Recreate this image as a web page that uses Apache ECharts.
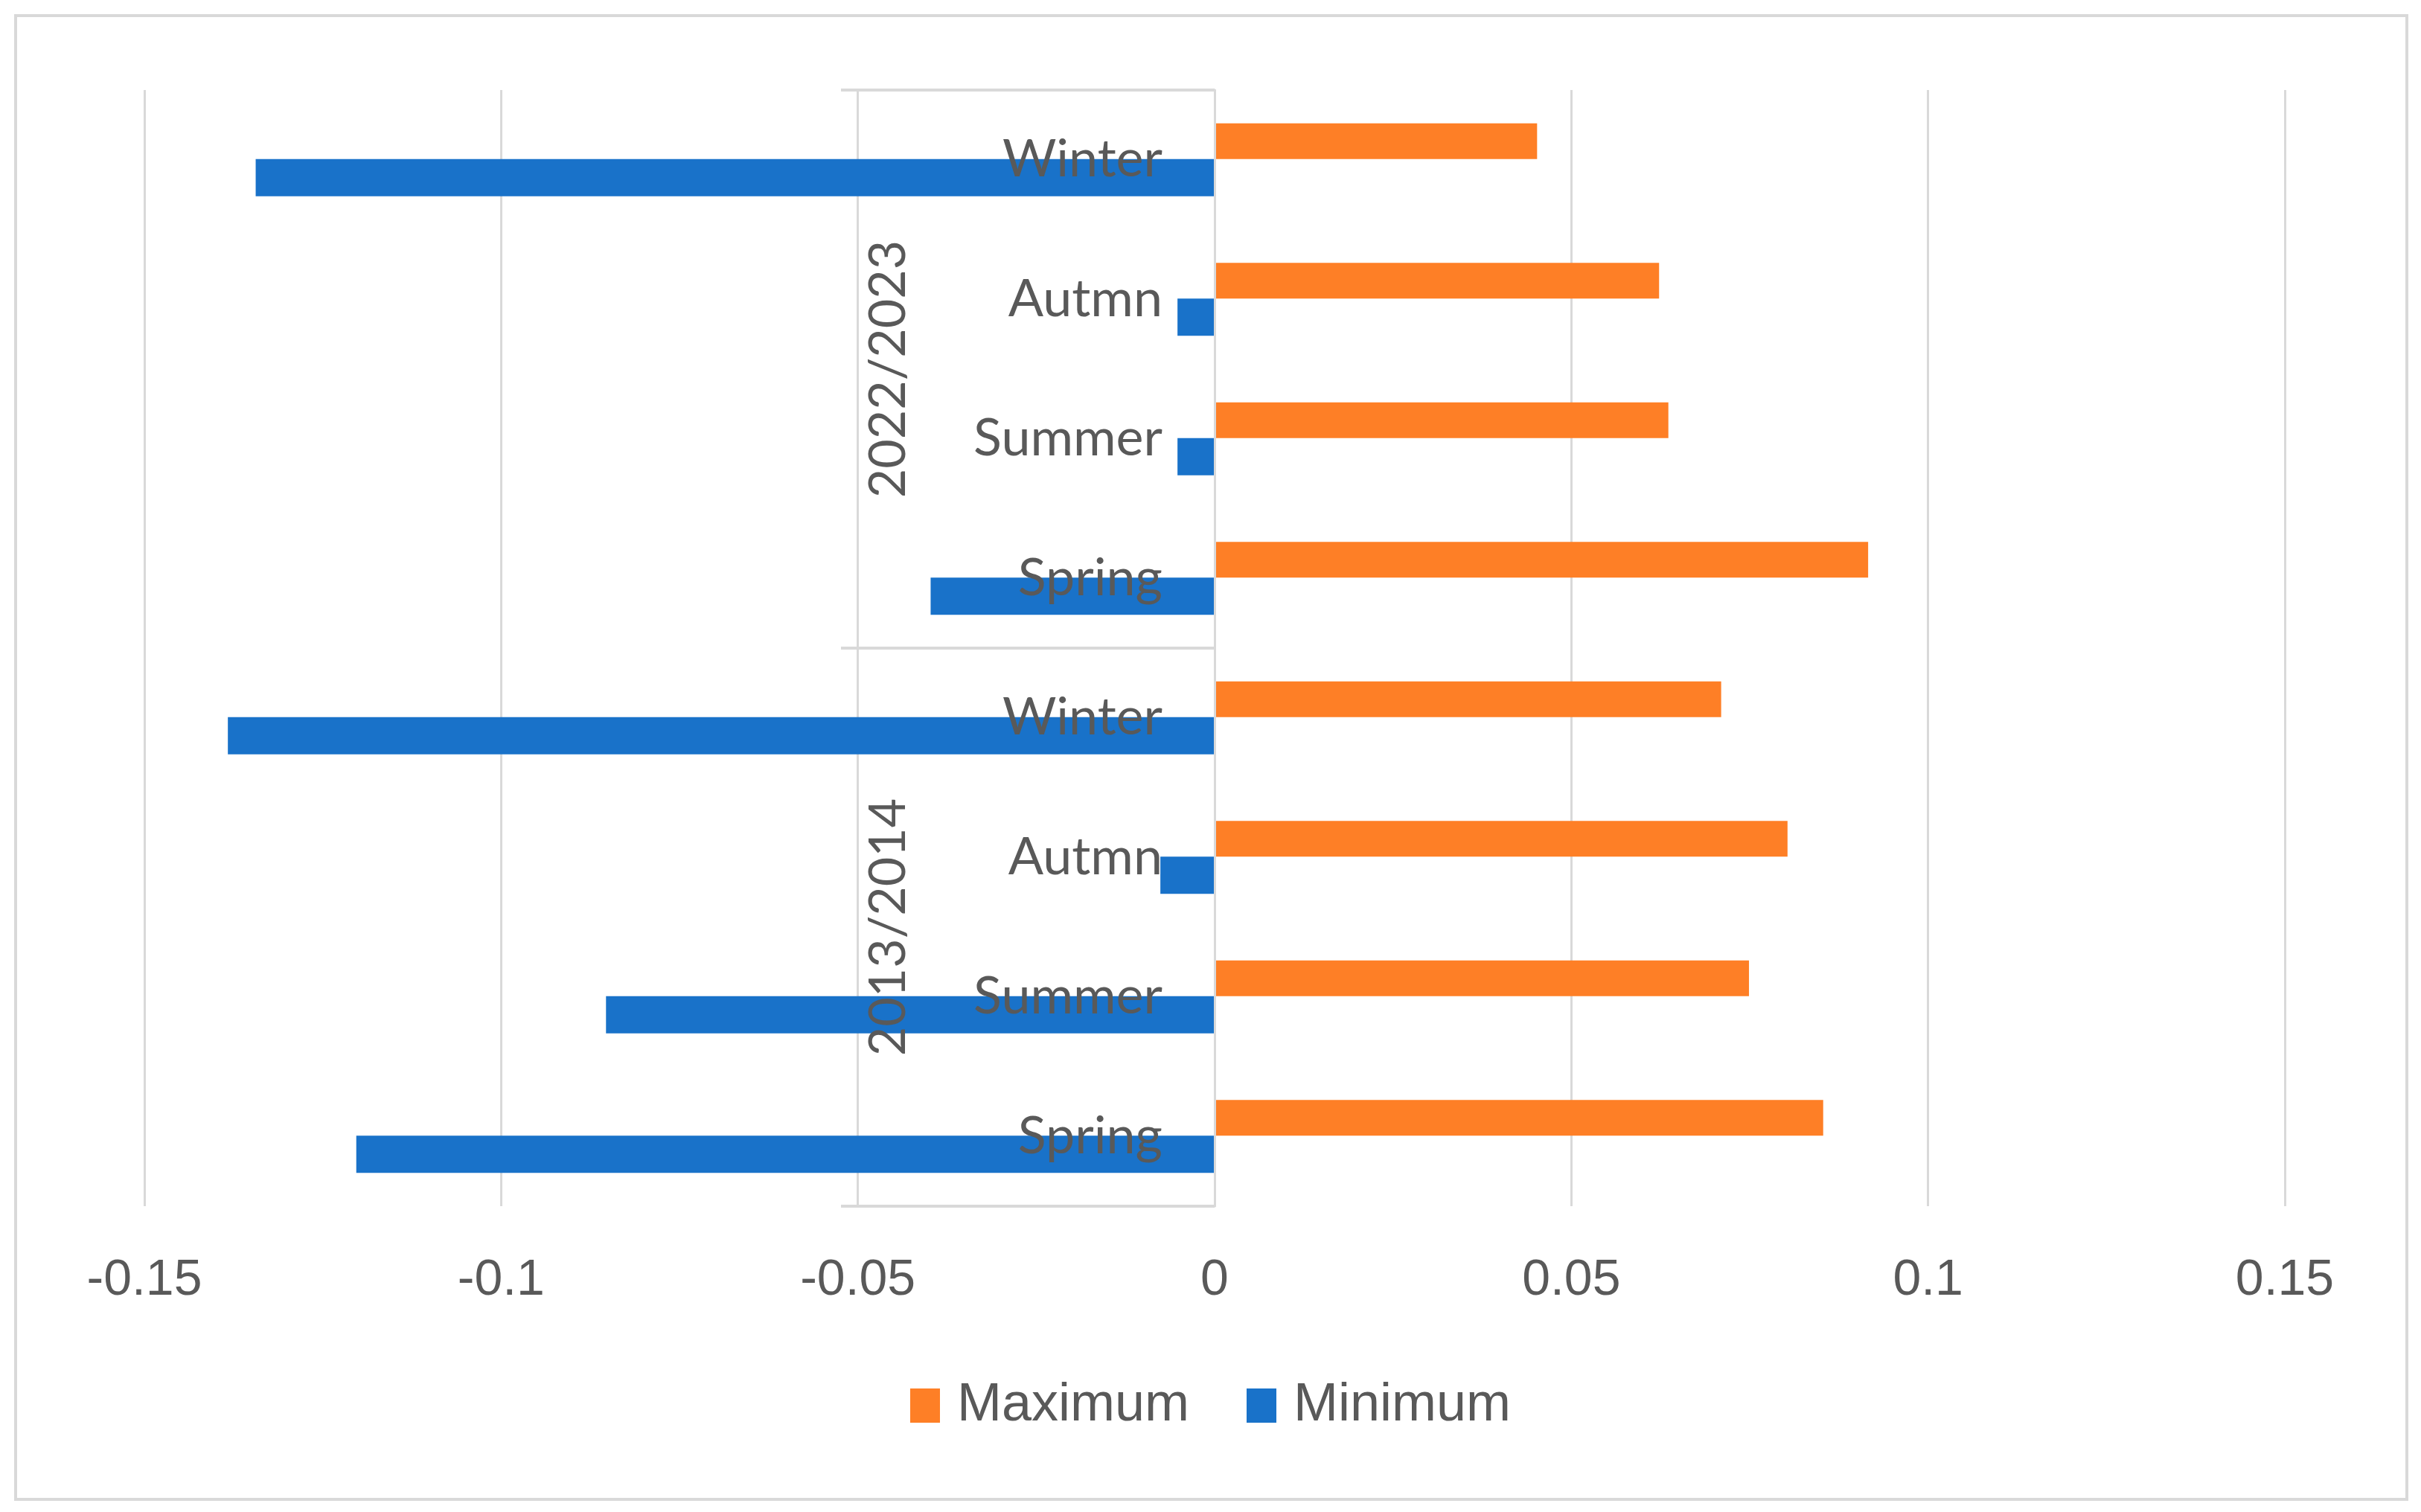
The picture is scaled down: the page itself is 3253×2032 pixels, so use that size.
<!DOCTYPE html>
<html>
<head>
<meta charset="utf-8">
<script src="https://cdn.jsdelivr.net/npm/echarts@6/dist/echarts.min.js"></script>
<style>
html,body{margin:0;padding:0;background:#fff;}
#chart{width:3253px;height:2032px;}
</style>
</head>
<body>
<div id="chart"></div>
<script>
// Categories listed bottom -> top
const years = ['2013/2014', '2022/2023'];
const seasons = ['Spring', 'Summer', 'Autmn', 'Winter'];
const seriesNames = ['Maximum', 'Minimum'];
const maximumValues = [0.0853, 0.0749, 0.0803, 0.0710, 0.0916, 0.0636, 0.0623, 0.0452];
const minimumValues = [-0.1203, -0.0853, -0.0076, -0.1383, -0.0398, -0.0052, -0.0052, -0.1344];
const xTicks = [-0.15, -0.1, -0.05, 0, 0.05, 0.1, 0.15];

const categoryKeys = [];
years.forEach(y => seasons.forEach(s => categoryKeys.push(y + '|' + s)));

const grey = '#595959';
const lineGrey = '#d9d9d9';
const GRID_LEFT = 194, GRID_RIGHT = 183;
const zeroX = GRID_LEFT + (3253 - GRID_LEFT - GRID_RIGHT) / 2;
const groupAxisX = 1130;

const chart = echarts.init(document.getElementById('chart'));
chart.setOption({
  animation: false,
  backgroundColor: '#ffffff',
  graphic: [{
    type: 'rect',
    shape: {x: 21, y: 21, width: 3213, height: 1994},
    style: {fill: 'none', stroke: lineGrey, lineWidth: 4},
    silent: true
  }],
  grid: {left: GRID_LEFT, right: GRID_RIGHT, top: 121, bottom: 411, containLabel: false, outerBoundsMode: 'none'},
  legend: {
    data: seriesNames,
    left: 'center',
    top: 1848,
    icon: 'rect',
    itemWidth: 40,
    itemHeight: 46,
    itemGap: 77,
    textStyle: {
      fontFamily: '"Liberation Sans", Arial, sans-serif',
      fontSize: 72,
      color: grey,
      padding: [0, 0, 0, 18]
    }
  },
  xAxis: {
    type: 'value',
    min: xTicks[0],
    max: xTicks[xTicks.length - 1],
    interval: 0.05,
    axisLine: {show: false},
    axisTick: {show: false},
    splitLine: {show: true, lineStyle: {color: lineGrey, width: 3}},
    axisLabel: {
      margin: 66,
      fontFamily: '"Liberation Sans", Arial, sans-serif',
      fontSize: 68,
      color: grey,
      formatter: v => {
        const t = xTicks.find(x => Math.abs(x - v) < 1e-9);
        return String(t !== undefined ? t : +v.toFixed(2));
      }
    }
  },
  yAxis: [{
    type: 'category',
    data: categoryKeys,
    position: 'left',
    offset: -(zeroX - GRID_LEFT),
    z: 10,
    axisLine: {show: true, onZero: false, lineStyle: {color: lineGrey, width: 3}},
    axisTick: {show: false},
    axisLabel: {
      margin: 70,
      fontFamily: 'Lato, "Liberation Sans", sans-serif',
      fontSize: 70,
      color: grey,
      formatter: v => v.split('|')[1]
    }
  }, {
    type: 'category',
    data: years,
    position: 'left',
    offset: -(groupAxisX - GRID_LEFT),
    z: 10,
    axisLine: {show: false, onZero: false},
    axisTick: {show: true, inside: true, length: zeroX - groupAxisX, interval: 0, lineStyle: {color: lineGrey, width: 4}},
    axisLabel: {
      inside: true,
      rotate: 90,
      margin: 30,
      fontFamily: 'Lato, "Liberation Sans", sans-serif',
      fontSize: 68,
      color: grey
    }
  }],
  series: [{
    name: seriesNames[0],
    type: 'bar',
    yAxisIndex: 0,
    data: maximumValues,
    barWidth: 48,
    barGap: '0%',
    itemStyle: {color: '#FE7F26'}
  }, {
    name: seriesNames[1],
    type: 'bar',
    yAxisIndex: 0,
    data: minimumValues,
    barWidth: 50,
    barGap: '0%',
    itemStyle: {color: '#1972C9'}
  }]
});
</script>
</body>
</html>
